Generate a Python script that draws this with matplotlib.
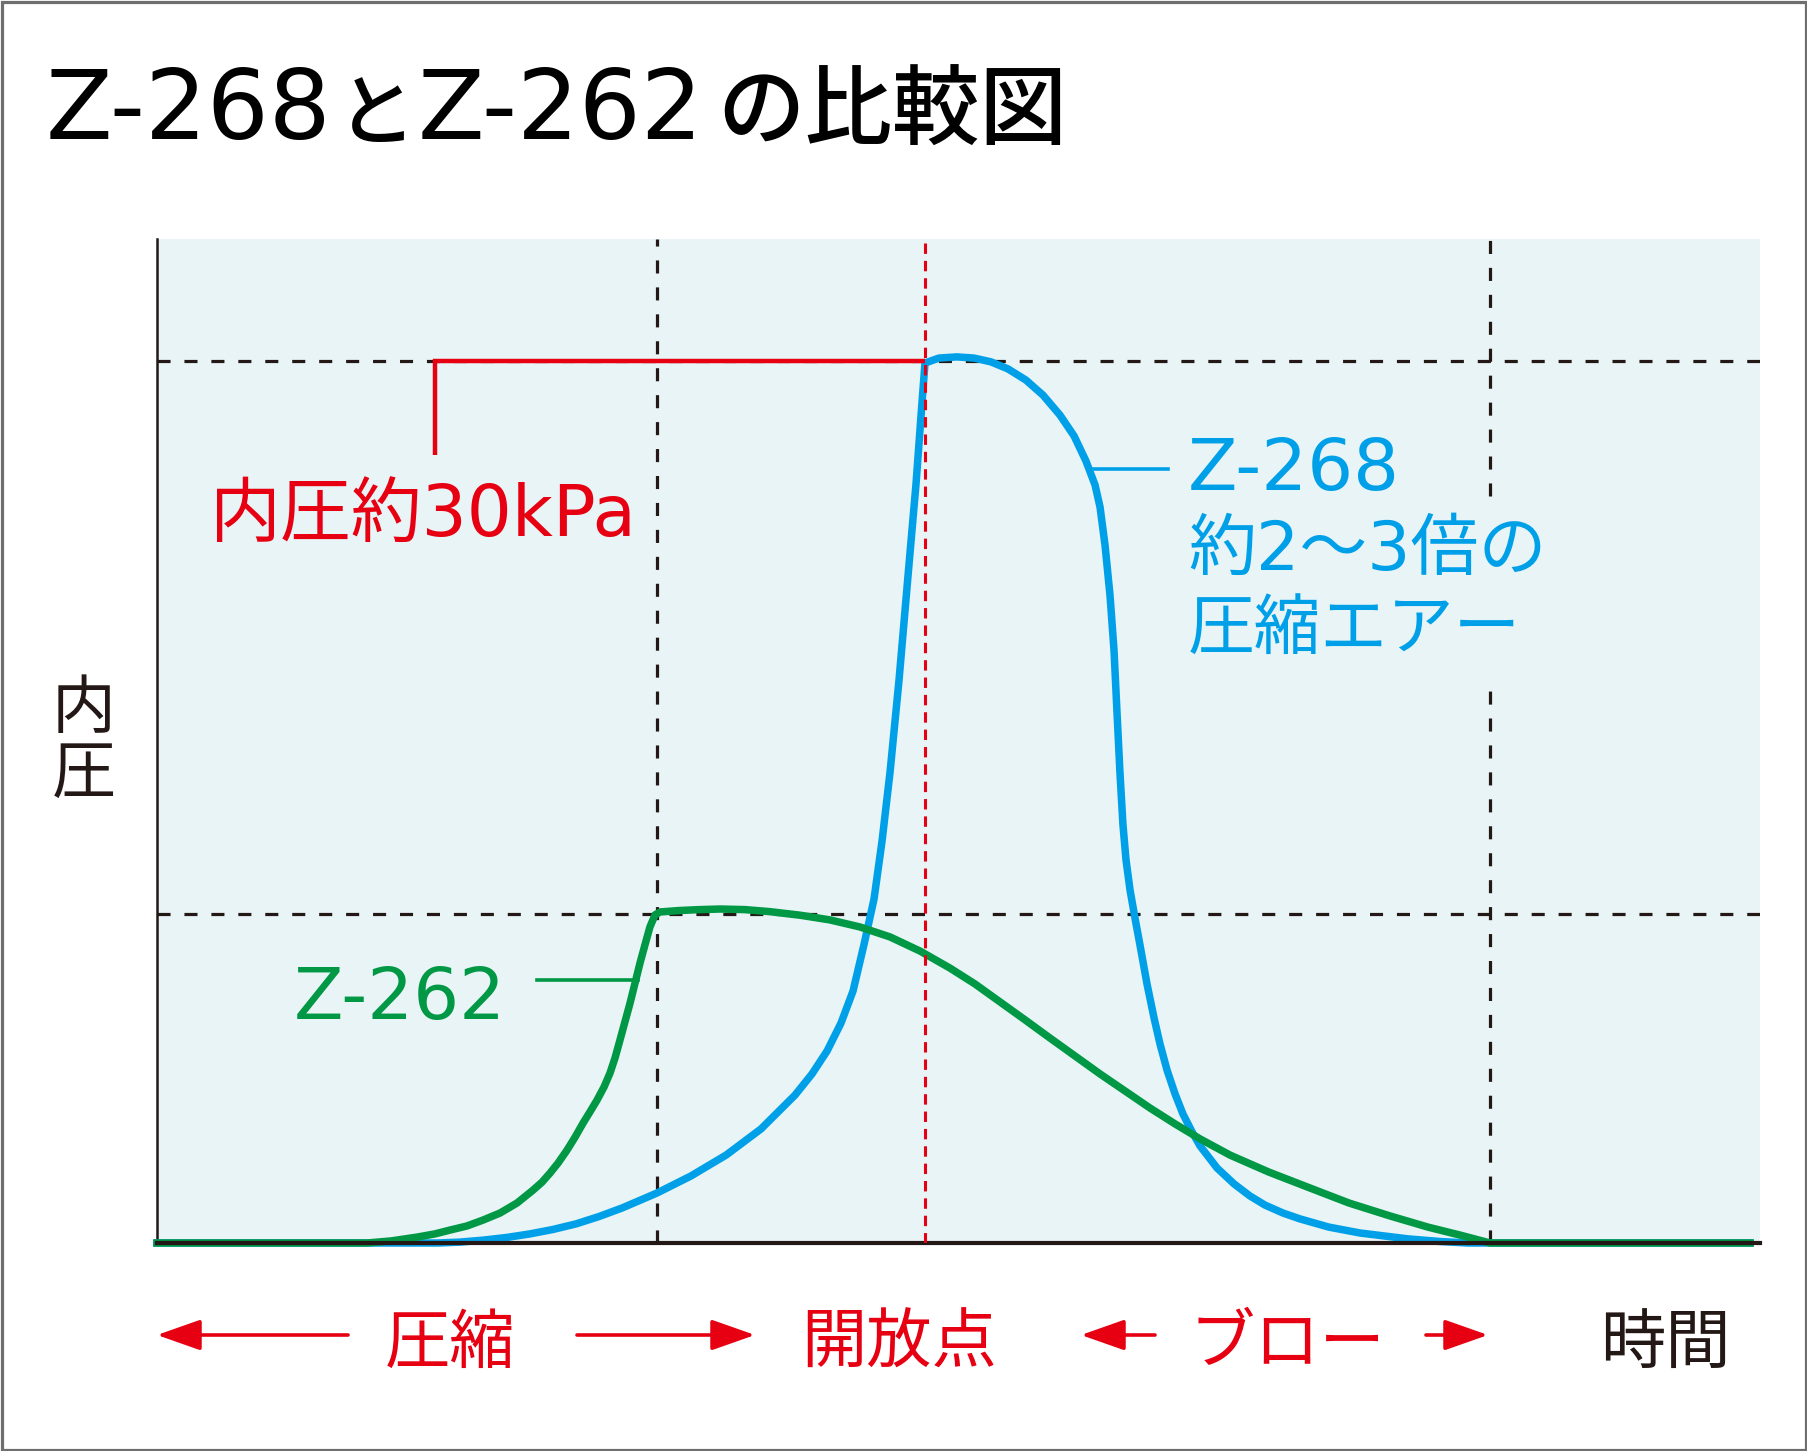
import matplotlib
matplotlib.use("Agg")
import matplotlib.pyplot as plt
from matplotlib.patches import Rectangle, FancyArrowPatch

W, H = 1807, 1451
plt.rcParams['font.family'] = ['Noto Sans CJK JP', 'DejaVu Sans']
plt.rcParams['lines.scale_dashes'] = False
MIX = ['DejaVu Sans', 'Noto Sans CJK JP']
CJK = ['Noto Sans CJK JP', 'DejaVu Sans']

# ---------------- data ----------------
title_parts = ["Z-268", "と", "Z-262", "の比較図"]   # title: Z-268とZ-262の比較図
y_label = ["内", "圧"]
x_label = "時間"
phase_labels = ["圧縮", "開放点", "ブロー"]
label_268 = ["Z-268", "約2〜3倍の", "圧縮エアー"]
label_262 = "Z-262"
label_level = "内圧約30kPa"

# Z-268 internal pressure (kPa) over time (arbitrary units 0-100)
time_268 = [0, 17.53, 18.90, 20.40, 21.84, 23.27, 24.70, 26.14, 27.57, 29.01,
            31.19, 33.31, 35.50, 37.68, 39.80, 40.86, 41.80, 42.67, 43.42, 44.10,
            44.73, 45.23, 45.73, 46.29, 46.85, 47.35, 47.72, 47.91, 48.78, 49.91,
            50.97, 52.03, 53.09, 54.21, 55.27, 56.33, 57.21, 57.95, 58.52, 58.83,
            59.14, 59.45, 59.70, 59.89, 60.07, 60.26, 60.45, 60.70, 61.01, 61.32,
            61.76, 62.20, 62.57, 63.01, 63.51, 64.00, 64.57, 65.07, 66.13, 67.19,
            68.18, 69.12, 70.24, 71.30, 73.11, 75.05, 78.04, 80.04, 81.78, 99.38]
press_268 = [0, 0, 0.03, 0.10, 0.19, 0.31, 0.46, 0.65, 0.90, 1.19,
             1.70, 2.28, 2.99, 3.88, 5.03, 5.75, 6.53, 7.48, 8.57, 10.14,
             11.70, 13.67, 16.02, 19.15, 22.69, 25.82, 28.57, 29.93, 30.10, 30.14,
             30.10, 29.97, 29.73, 29.35, 28.84, 28.16, 27.45, 26.60, 25.78, 25.03,
             23.74, 22.04, 20.17, 18.03, 16.02, 14.22, 13.03, 12.01, 11.05, 10.14,
             8.81, 7.65, 6.77, 5.88, 5.07, 4.39, 3.78, 3.30, 2.55, 2.01,
             1.60, 1.29, 1.02, 0.82, 0.54, 0.34, 0.14, 0.05, 0, 0]

# Z-262 internal pressure (kPa)
time_262 = [0, 13.10, 14.60, 16.22, 17.34, 18.28, 19.34, 20.34, 21.40, 22.46,
            23.46, 24.02, 24.52, 25.02, 25.58, 26.08, 26.58, 27.01, 27.45, 27.89,
            28.26, 28.57, 28.88, 29.19, 29.51, 29.82, 30.13, 30.44, 30.75, 31.07,
            31.38, 32.63, 33.87, 35.12, 36.68, 38.24, 40.11, 41.98, 43.85, 45.73,
            47.60, 49.47, 51.03, 52.59, 54.15, 55.71, 57.27, 58.83, 60.39, 61.95,
            63.51, 65.07, 66.94, 69.37, 71.93, 74.36, 76.92, 79.29, 81.28, 83.16, 99.38]
press_262 = [0, 0, 0.07, 0.20, 0.31, 0.44, 0.58, 0.78, 1.02, 1.36,
             1.80, 2.07, 2.38, 2.72, 3.16, 3.60, 4.08, 4.46, 4.86, 5.31,
             5.78, 6.29, 6.90, 7.52, 8.16, 8.84, 9.52, 10.14, 10.75, 11.16,
             11.26, 11.31, 11.34, 11.36, 11.34, 11.27, 11.15, 10.99, 10.75, 10.41,
             9.93, 9.35, 8.81, 8.20, 7.59, 6.97, 6.36, 5.75, 5.17, 4.59,
             4.05, 3.54, 2.99, 2.41, 1.87, 1.36, 0.92, 0.54, 0.27, 0, 0]

level_268 = 30.0      # kPa
level_262 = 11.2      # kPa
t_compress_end = 31.2
t_open = 47.9
t_blow_end = 83.16
x_max = 100
y_max = 34.15

# ---------------- style ----------------
BLUE = '#00A0E9'
GREEN = '#009844'
RED = '#E60012'
BLACK = '#231815'
BG = '#E8F4F6'

fig = plt.figure(figsize=(W / 100, H / 100), dpi=100)
fig.patch.set_facecolor('white')


def fx(px):
    return px / W


def fy(py):
    return 1 - py / H


ax = fig.add_axes([fx(157), fy(1243), (1760 - 157) / W, (1243 - 239) / H])
ax.set_xlim(0, x_max)
ax.set_ylim(0, y_max)
ax.set_facecolor(BG)
for s in ['top', 'right']:
    ax.spines[s].set_visible(False)
ax.spines['left'].set_color(BLACK)
ax.spines['left'].set_linewidth(1.8)
ax.spines['bottom'].set_color(BLACK)
ax.spines['bottom'].set_linewidth(3.0)
ax.spines['bottom'].set_zorder(6)
ax.set_xticks([])
ax.set_yticks([])

dash_k = (9.4, 10)
# horizontal dashed reference levels
ax.plot([0, x_max], [level_268, level_268], color=BLACK, lw=2.3, dashes=dash_k, zorder=2)
ax.plot([0, x_max], [level_262, level_262], color=BLACK, lw=2.3, dashes=dash_k, zorder=2)
# vertical dashed phase lines
ax.plot([t_compress_end, t_compress_end], [0, y_max], color=BLACK, lw=2.3, dashes=dash_k, zorder=2)
ax.plot([t_blow_end, t_blow_end], [25.4, y_max], color=BLACK, lw=2.3, dashes=dash_k, zorder=2)
ax.plot([t_blow_end, t_blow_end], [0, 18.95], color=BLACK, lw=2.3, dashes=dash_k, zorder=2)

# curves
ax.plot(time_268, press_268, color=BLUE, lw=5.4, zorder=4, clip_on=False,
        solid_joinstyle='round')
ax.plot(time_262, press_262, color=GREEN, lw=5.4, zorder=5, clip_on=False,
        solid_joinstyle='round')

# red open point line
ax.plot([t_open, t_open], [0, y_max], color=RED, lw=2.2, dashes=(7.5, 5), zorder=7)

# 30kPa bracket
ax.plot([17.34, 17.34, t_open], [26.8, level_268, level_268], color=RED, lw=3.2,
        zorder=6, solid_joinstyle='miter', solid_capstyle='butt')

# leader lines
ax.plot([23.7, 30.0], [8.95, 8.95], color=GREEN, lw=2.6, zorder=5)
ax.plot([58.4, 63.07], [26.33, 26.33], color=BLUE, lw=2.6, zorder=5)

# ---------------- texts ----------------
tb = 139  # title baseline (px)
fig.text(fx(46), fy(tb), title_parts[0], fontsize=70, color='black', ha='left',
         va='baseline', family=MIX)
fig.text(fx(376), fy(tb), title_parts[1], fontsize=57, color='black', ha='center',
         va='baseline', family=CJK, fontweight='medium')
fig.text(fx(418), fy(tb), title_parts[2], fontsize=70, color='black', ha='left',
         va='baseline', family=MIX)
fig.text(fx(717), fy(tb), title_parts[3], fontsize=63, color='black', ha='left',
         va='baseline', family=CJK, fontweight='medium')

fig.text(fx(423), fy(537), label_level, fontsize=51, color=RED, ha='center', va='baseline',
         family=MIX)

fig.text(fx(400), fy(1019), label_262, fontsize=52, color=GREEN, ha='center', va='baseline',
         family=MIX)

fig.text(fx(1188), fy(490), label_268[0], fontsize=52, color=BLUE, ha='left', va='baseline',
         family=MIX)
fig.text(fx(1188), fy(570), label_268[1], fontsize=49, color=BLUE, ha='left', va='baseline',
         family=MIX)
fig.text(fx(1188), fy(650), label_268[2], fontsize=48, color=BLUE, ha='left', va='baseline',
         family=MIX)

fig.text(fx(84), fy(728), y_label[0], fontsize=46, color=BLACK, ha='center', va='baseline')
fig.text(fx(84), fy(793), y_label[1], fontsize=46, color=BLACK, ha='center', va='baseline')

fig.text(fx(450), fy(1363), phase_labels[0], fontsize=47, color=RED, ha='center', va='baseline')
fig.text(fx(899), fy(1363), phase_labels[1], fontsize=47, color=RED, ha='center', va='baseline')
fig.text(fx(1287), fy(1363), phase_labels[2], fontsize=47, color=RED, ha='center', va='baseline')
fig.text(fx(1665), fy(1363), x_label, fontsize=47, color=BLACK, ha='center', va='baseline')

# phase arrows
arrow_y = 1335
for a, b in [(348, 157), (577, 755), (1155, 1081), (1426, 1488)]:
    arr = FancyArrowPatch((fx(a), fy(arrow_y)), (fx(b), fy(arrow_y)),
                          transform=fig.transFigure,
                          arrowstyle='-|>,head_length=27,head_width=9.5',
                          mutation_scale=1, lw=2.6, color=RED,
                          shrinkA=0, shrinkB=0)
    fig.add_artist(arr)

# outer frame
fig.add_artist(Rectangle((fx(1.5), fy(H - 1.5)), (W - 3) / W, (H - 3) / H,
                         transform=fig.transFigure, fill=False,
                         edgecolor='#6E6E6E', lw=2.3))

fig.savefig('out.png', dpi=100)
